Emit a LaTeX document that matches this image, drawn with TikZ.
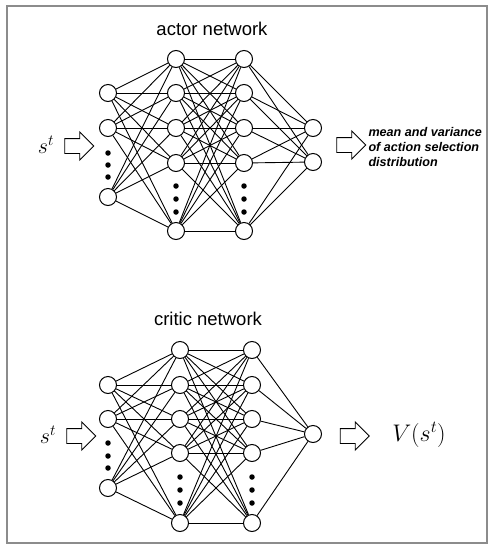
\documentclass[tikz,border=0pt]{standalone}
\usepackage{fontspec}
\setmainfont{Liberation Sans}
\usepackage{fix-cm}
\usetikzlibrary{shapes.arrows}
\begin{document}
\begin{tikzpicture}[x=1pt,y=-1pt,
  neuron/.style={circle,draw,line width=1pt,fill=white,minimum size=17pt,inner sep=0pt},
  dotnode/.style={circle,fill=black,minimum size=5.5pt,inner sep=0pt},
  conn/.style={line width=0.9pt},
  hollow/.style={single arrow,draw,line width=0.9pt,inner sep=7pt,minimum height=29pt,single arrow head extend=6.5pt,anchor=center},
  title/.style={font=\fontsize{18.5}{20}\selectfont},
  mathlbl/.style={font=\fontsize{22}{24}\selectfont}]
\useasboundingbox (0,0) rectangle (495,550);
\draw[line width=1.5pt,draw=black!45] (7,6) rectangle (487,543);

% ---------- actor network ----------
\node[title] (atitle) at (212,29) {actor network};
\foreach \y [count=\i] in {93,128,197} \node[neuron] (ai\i) at (108,\y) {};
\foreach \y [count=\i] in {59,93,128,163,231} {
  \node[neuron] (ah\i) at (176,\y) {};
  \node[neuron] (ag\i) at (244,\y) {};
}
\foreach \y [count=\i] in {128,162} \node[neuron] (ao\i) at (313,\y) {};
\foreach \y [count=\i] in {153,165,177} \node[dotnode] (aid\i) at (108,\y) {};
\foreach \y [count=\i] in {186,199,212} {
  \node[dotnode] (ahd\i) at (176,\y) {};
  \node[dotnode] (agd\i) at (244,\y) {};
}
\foreach \i in {1,2,3} \foreach \j in {1,...,5} \draw[conn] (ai\i) -- (ah\j);
\foreach \i in {1,...,5} \foreach \j in {1,...,5} \draw[conn] (ah\i) -- (ag\j);
\foreach \i in {1,...,5} \foreach \j in {1,2} \draw[conn] (ag\i) -- (ao\j);
\node[mathlbl] (ast) at (46,145) {$s^t$};
\node[hollow] (aarrin) at (75.5,146) {};
\node[hollow] (aarrout) at (347.5,145) {};
\node[font=\fontsize{12.6}{15}\selectfont\bfseries\itshape,align=left,anchor=west] (aout) at (365,147) {mean and variance\\of action selection\\distribution};

% ---------- critic network ----------
\node[title] (ctitle) at (208,319) {critic network};
\foreach \y [count=\i] in {385,419,488} \node[neuron] (ci\i) at (108,\y) {};
\foreach \y [count=\i] in {350,385,419,453,523} {
  \node[neuron] (ch\i) at (180,\y) {};
  \node[neuron] (cg\i) at (252,\y) {};
}
\node[neuron] (co1) at (313,434) {};
\foreach \y [count=\i] in {443,456,468} \node[dotnode] (cid\i) at (108,\y) {};
\foreach \y [count=\i] in {477,490,503} {
  \node[dotnode] (chd\i) at (180,\y) {};
  \node[dotnode] (cgd\i) at (252,\y) {};
}
\foreach \i in {1,2,3} \foreach \j in {1,...,5} \draw[conn] (ci\i) -- (ch\j);
\foreach \i in {1,...,5} \foreach \j in {1,...,5} \draw[conn] (ch\i) -- (cg\j);
\foreach \i in {1,...,5} \draw[conn] (cg\i) -- (co1);
\node[mathlbl] (cst) at (48,435) {$s^t$};
\node[hollow] (carrin) at (77.5,436) {};
\node[hollow] (carrout) at (351,436) {};
\node[font=\fontsize{24}{26}\selectfont] (cval) at (419,435) {$V(s^t)$};
\end{tikzpicture}
\end{document}
